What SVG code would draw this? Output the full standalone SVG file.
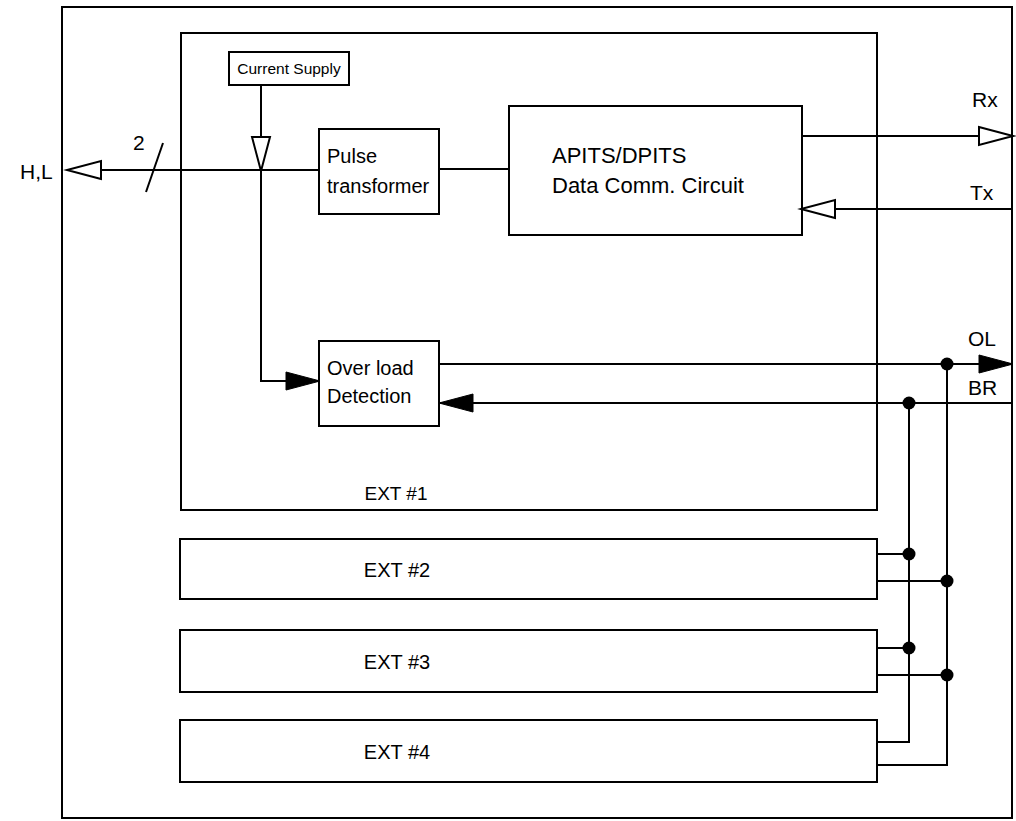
<svg xmlns="http://www.w3.org/2000/svg" width="1016" height="821" viewBox="0 0 1016 821">
<style>
.box{fill:none;stroke:#000;stroke-width:2}
.ln{fill:none;stroke:#000;stroke-width:2}
.t{font-family:"Liberation Sans",Arial,sans-serif;fill:#000}
.dot{fill:#000}
</style>
<defs>
<marker id="open" viewBox="0 0 34 18" refX="33" refY="9" markerWidth="34" markerHeight="18" markerUnits="userSpaceOnUse" orient="auto" overflow="visible">
<path d="M0,0 L34,9 L0,18 Z" fill="#fff" stroke="#000" stroke-width="2"/>
</marker>
<marker id="fill" viewBox="0 0 34 18" refX="33" refY="9" markerWidth="34" markerHeight="18" markerUnits="userSpaceOnUse" orient="auto" overflow="visible">
<path d="M0,0 L34,9 L0,18 Z" fill="#000" stroke="#000" stroke-width="1"/>
</marker>
</defs>
<rect width="1016" height="821" fill="#fff"/>
<g id="outer"><rect class="box" x="62" y="7" width="950" height="811"/></g>
<g id="ext1"><rect class="box" x="181" y="33" width="696" height="477"/><text class="t" x="396" y="500" font-size="19" text-anchor="middle">EXT #1</text></g>
<g id="current-supply"><rect class="box" x="229" y="52" width="120" height="33"/><text class="t" x="289" y="74" font-size="15.5" text-anchor="middle">Current Supply</text></g>
<g id="pulse-transformer"><rect class="box" x="319" y="129" width="120" height="85"/><text class="t" x="327" y="163" font-size="20">Pulse</text><text class="t" x="327" y="193" font-size="20">transformer</text></g>
<g id="apits"><rect class="box" x="509" y="106" width="293" height="129"/><text class="t" x="552" y="163" font-size="22">APITS/DPITS</text><text class="t" x="552" y="193" font-size="22">Data Comm. Circuit</text></g>
<g id="overload"><rect class="box" x="319" y="341" width="120" height="85"/><text class="t" x="327" y="375" font-size="20">Over load</text><text class="t" x="327" y="403" font-size="20">Detection</text></g>
<g id="ext2"><rect class="box" x="180" y="539" width="697" height="60"/><text class="t" x="397" y="577" font-size="20" text-anchor="middle">EXT #2</text></g>
<g id="ext3"><rect class="box" x="180" y="630" width="697" height="62"/><text class="t" x="397" y="669" font-size="20" text-anchor="middle">EXT #3</text></g>
<g id="ext4"><rect class="box" x="180" y="720" width="697" height="62"/><text class="t" x="397" y="759" font-size="20" text-anchor="middle">EXT #4</text></g>
<g id="labels">
<text class="t" x="20" y="179" font-size="21">H,L</text>
<text class="t" x="133" y="150" font-size="21">2</text>
<text class="t" x="972" y="107" font-size="21">Rx</text>
<text class="t" x="970" y="200" font-size="21">Tx</text>
<text class="t" x="968" y="346" font-size="21">OL</text>
<text class="t" x="968" y="395" font-size="21">BR</text>
</g>
<g id="connectors">
<path class="ln" d="M320,170 L68,170" marker-end="url(#open)"/>
<path class="ln" d="M146,192 L163,143"/>
<path class="ln" d="M261,85 L261,170" marker-end="url(#open)"/>
<path class="ln" d="M261,170 L261,381 L319,381" marker-end="url(#fill)"/>
<path class="ln" d="M439,169 L509,169"/>
<path class="ln" d="M802,136 L1012,136" marker-end="url(#open)"/>
<path class="ln" d="M1012,209 L802,209" marker-end="url(#open)"/>
<path class="ln" d="M439,364 L1012,364" marker-end="url(#fill)"/>
<path class="ln" d="M1012,403 L440,403" marker-end="url(#fill)"/>
<path class="ln" d="M909,403 L909,742 L877,742"/>
<path class="ln" d="M947,364 L947,765 L877,765"/>
<path class="ln" d="M877,554 L909,554"/>
<path class="ln" d="M877,581 L947,581"/>
<path class="ln" d="M877,648 L909,648"/>
<path class="ln" d="M877,675 L947,675"/>
<circle class="dot" cx="947" cy="364" r="6.5"/>
<circle class="dot" cx="909" cy="403" r="6.5"/>
<circle class="dot" cx="909" cy="554" r="6.5"/>
<circle class="dot" cx="947" cy="581" r="6.5"/>
<circle class="dot" cx="909" cy="648" r="6.5"/>
<circle class="dot" cx="947" cy="675" r="6.5"/>
</g>
</svg>
